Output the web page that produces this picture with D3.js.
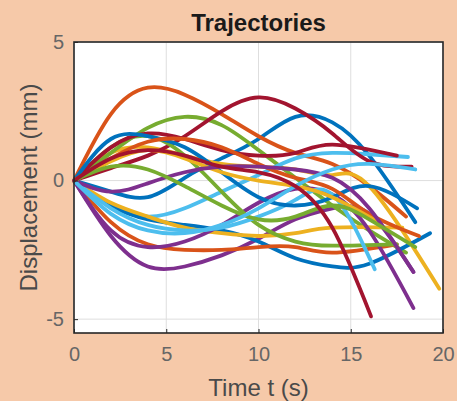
<!DOCTYPE html>
<html>
  <head>
    <title>Trajectories</title>
    <meta http-equiv="Content-Type" content="text/html; charset=utf-8">
    <style type="text/css">
      body { margin: 0; background: #f6c9a9; }
      path.line {
        fill: none;
        stroke-width: 3.8;
        stroke-linecap: round;
        stroke-linejoin: round;
      }
      .grid line { stroke: #dedede; stroke-width: 1; }
      .tick-label { font-family: "Liberation Sans", Arial, sans-serif; font-size: 20px; fill: #666; }
      .axis-label { font-family: "Liberation Sans", Arial, sans-serif; font-size: 24px; fill: #4a4a4a; }
    </style>
  </head>
  <body>
    <div id="main"></div>
    <script src="https://d3js.org/d3.v7.min.js"></script>
    <script>
    // sample times (s); the last value of each series sits at its own end time
    var tGrid = [0, 2, 4, 6, 8, 10, 12, 14, 16, 18];
    var colors = ["#0072BD", "#D95319", "#EDB120", "#7E2F8E", "#77AC30", "#4DBEEE", "#A2142F"];
    var endTimes = [18.5, 18.0, 19.8, 18.4, 18.0, 18.1, 18.3,
                    19.3, 17.5, 17.8, 18.4, 17.5, 16.3, 17.5,
                    18.6, 18.7, 16.5, 18.4, 18.5, 18.5, 16.1];
    // displacement (mm)
    var seriesValues = [
      [0, -0.4, -0.6, 0.1, 0.8, 1.5, 2.3, 2.1, 0.9, -1.5],
      [0, 2.4, 3.35, 3.1, 2.4, 1.6, 1.0, 0.6, -0.2, -1.3],
      [0, 1.0, 1.2, 0.9, 0.6, 0.5, 0.4, 0.2, -0.2, -3.9],
      [0, -2.0, -3.1, -3.1, -2.7, -2.1, -1.4, -1.0, -1.2, -3.3],
      [0, 1.0, 1.9, 2.3, 2.0, 1.1, 0.1, -0.9, -1.8, -2.6],
      [0, -0.9, -1.3, -1.0, -0.4, 0.2, 0.8, 1.0, 0.95, 0.85],
      [0, 0.45, 0.9, 1.6, 2.5, 3.0, 2.6, 1.7, 0.7, 0.5],
      [0, -0.9, -1.4, -1.6, -1.8, -2.2, -2.8, -3.1, -3.0, -1.9],
      [0, -1.5, -2.3, -2.5, -2.5, -2.4, -2.4, -2.6, -2.3],
      [0, -0.8, -1.3, -1.7, -1.9, -2.0, -1.9, -1.7, -1.7],
      [0, -1.8, -2.4, -2.2, -1.6, -0.8, -0.3, -0.5, -1.8, -4.6],
      [0, 1.2, 1.6, 0.9, -0.4, -1.6, -2.2, -2.35, -2.3],
      [0, -1.0, -1.6, -1.8, -1.7, -1.3, -0.7, -0.5, -3.2],
      [0, 1.2, 1.7, 1.5, 1.1, 0.9, 1.0, 1.3, 0.9],
      [0, 1.5, 1.6, 1.2, 0.3, -0.6, -0.9, -0.6, -0.2, -1.0],
      [0, 0.8, 1.4, 1.5, 1.2, 0.6, 0.1, -0.3, -1.2, -2.0],
      [0, 0.7, 1.1, 0.8, 0.3, 0.0, -0.2, -0.6, -1.5],
      [0, -0.4, -0.1, 0.3, 0.5, 0.5, 0.4, 0.1, -1.0, -3.3],
      [0, 0.5, 0.4, -0.2, -0.9, -1.4, -1.3, -0.9, -1.4, -2.4],
      [0, -1.2, -1.8, -1.9, -1.6, -1.0, -0.2, 0.4, 0.6, 0.4],
      [0, 0.8, 1.1, 0.9, 0.5, 0.3, -0.2, -1.7, -4.9]
    ];
    var xTicks = [0, 5, 10, 15, 20];
    var yTicks = [-5, 0, 5];

    var width = 457, height = 401;
    var plot = {left: 74, right: 443, top: 42, bottom: 333};

    var x = d3.scaleLinear().domain([0, 20]).range([plot.left, plot.right]);
    var y = d3.scaleLinear().domain([-5.5, 5]).range([plot.bottom, plot.top]);

    var svg = d3.select("#main")
      .append("svg")
        .attr("width", width)
        .attr("height", height);

    svg.append("rect")
        .attr("x", plot.left).attr("y", plot.top)
        .attr("width", plot.right - plot.left)
        .attr("height", plot.bottom - plot.top)
        .attr("fill", "#fff");

    // grid
    var grid = svg.append("g").attr("class", "grid");
    grid.selectAll(".gx").data(xTicks).enter().append("line")
        .attr("x1", function(d) { return x(d); }).attr("x2", function(d) { return x(d); })
        .attr("y1", plot.top).attr("y2", plot.bottom);
    grid.selectAll(".gy").data(yTicks).enter().append("line")
        .attr("y1", function(d) { return y(d); }).attr("y2", function(d) { return y(d); })
        .attr("x1", plot.left).attr("x2", plot.right);

    // trajectories
    var line = d3.line()
      .x(function(d) { return x(d[0]); })
      .y(function(d) { return y(d[1]); })
      .curve(d3.curveNatural);

    seriesValues.forEach(function(vals, i) {
      var pts = vals.map(function(v, k) {
        return [k === vals.length - 1 ? endTimes[i] : tGrid[k], v];
      });
      svg.append("path")
        .attr("class", "line")
        .attr("stroke", colors[i % colors.length])
        .attr("d", line(pts));
    });

    // box
    svg.append("rect")
        .attr("x", plot.left).attr("y", plot.top)
        .attr("width", plot.right - plot.left)
        .attr("height", plot.bottom - plot.top)
        .attr("fill", "none")
        .attr("stroke", "#262626")
        .attr("stroke-width", 1.6);

    // axes (ticks inside, labels outside); plain hyphen for negatives
    function plain(d) { return String(d); }
    function styleAxis(g) {
      g.select(".domain").remove();
      g.selectAll(".tick line").attr("stroke", "#262626");
      g.selectAll(".tick text").attr("class", "tick-label").attr("fill", null)
        .attr("font-size", null).attr("font-family", null);
    }

    svg.append("g")
        .attr("transform", "translate(0," + plot.bottom + ")")
        .call(d3.axisBottom(x).tickValues(xTicks).tickFormat(plain).tickSize(-4).tickPadding(14))
        .call(styleAxis);

    svg.append("g")
        .attr("transform", "translate(" + plot.left + ",0)")
        .call(d3.axisLeft(y).tickValues(yTicks).tickFormat(plain).tickSize(-4).tickPadding(10))
        .call(styleAxis);

    // title and labels
    svg.append("text")
        .attr("x", (plot.left + plot.right) / 2)
        .attr("y", 31)
        .attr("text-anchor", "middle")
        .style("font-family", "'Liberation Sans', Arial, sans-serif")
        .style("font-size", "24px")
        .style("font-weight", "bold")
        .style("fill", "#1a1a1a")
        .text("Trajectories");

    svg.append("text")
        .attr("class", "axis-label")
        .attr("x", (plot.left + plot.right) / 2)
        .attr("y", 396)
        .attr("text-anchor", "middle")
        .text("Time t (s)");

    svg.append("text")
        .attr("class", "axis-label")
        .attr("transform", "translate(37," + ((plot.top + plot.bottom) / 2) + ") rotate(-90)")
        .attr("text-anchor", "middle")
        .text("Displacement (mm)");
    </script>
  </body>
</html>
